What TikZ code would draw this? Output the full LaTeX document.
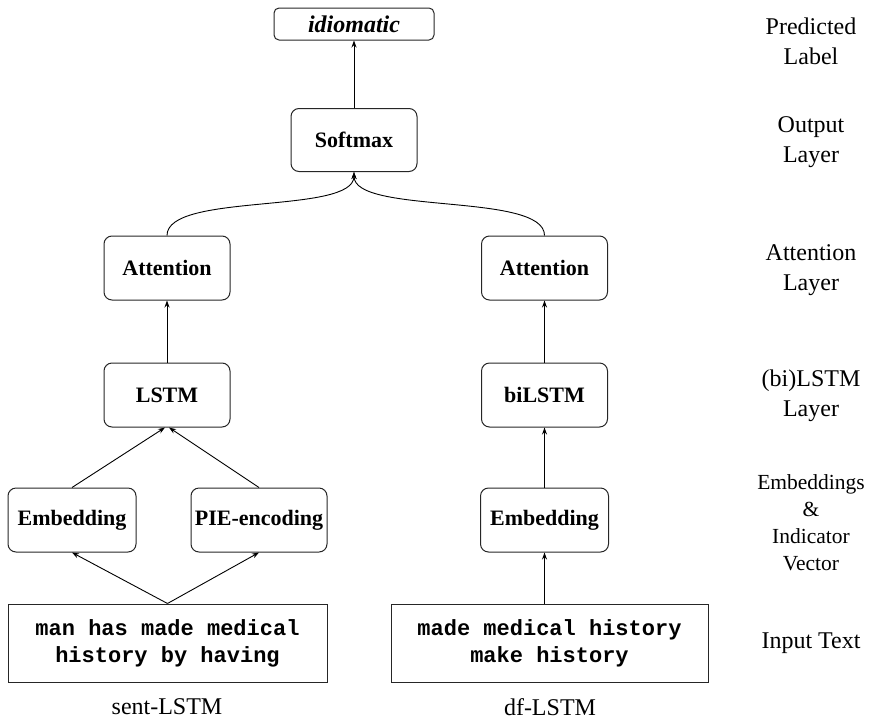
\documentclass[tikz,border=0pt]{standalone}
\usepackage{fontspec}
\setmainfont{Liberation Serif}
\setmonofont{Liberation Mono}
\usetikzlibrary{arrows.meta}
\begin{document}
\begin{tikzpicture}[x=1pt,y=-1pt,
  box/.style={draw=black!85, line width=1pt, rounded corners=8pt, align=center, inner sep=0pt,
    font=\fontsize{22}{26}\selectfont\bfseries},
  inbox/.style={draw=black!85, line width=1pt, align=center, inner sep=0pt,
    minimum width=319pt, minimum height=78pt, font=\fontsize{22}{27}\selectfont\ttfamily\bfseries},
  side/.style={align=center, font=\fontsize{24}{30}\selectfont},
  captext/.style={font=\fontsize{24}{28}\selectfont},
  arr/.style={line width=0.9pt, -{Stealth[length=7pt,width=5pt]}}]
\useasboundingbox (0,0) rectangle (869,720);

% main nodes
\node[box, rounded corners=5pt, minimum width=160pt, minimum height=32pt,
  font=\fontsize{24}{28}\selectfont\bfseries\itshape] (lab) at (354,24) {idiomatic};
\node[box, minimum width=126pt, minimum height=63pt] (soft) at (354,140) {Softmax};
\node[box, minimum width=126pt, minimum height=64pt] (attL) at (167,268) {Attention};
\node[box, minimum width=126pt, minimum height=64pt] (attR) at (544.5,268) {Attention};
\node[box, minimum width=126pt, minimum height=64pt] (lstm) at (167,395) {LSTM};
\node[box, minimum width=126pt, minimum height=64pt] (bilstm) at (544.5,395) {biLSTM};
\node[box, minimum width=128pt, minimum height=64pt] (embL) at (72,520) {Embedding};
\node[box, minimum width=136pt, minimum height=64pt] (pie) at (259,520) {PIE-encoding};
\node[box, minimum width=128pt, minimum height=64pt] (embR) at (544.5,520) {Embedding};
\node[inbox] (inL) at (167.5,643) {man has made medical\\history by having};
\node[inbox, minimum width=317pt] (inR) at (549.5,643) {made medical history\\make history};

% captions
\node[captext] (capL) at (167,707) {sent-LSTM};
\node[captext] (capR) at (550,707) {df-LSTM};

% side labels
\node[side] (s1) at (811,41) {Predicted\\Label};
\node[side] (s2) at (811,142) {Output\\Layer};
\node[side] (s3) at (811,270) {Attention\\Layer};
\node[side] (s4) at (811,396) {(bi)LSTM\\Layer};
\node[side, font=\fontsize{21.5}{27}\selectfont] (s5) at (811,523) {Embeddings\\\&\\Indicator\\Vector};
\node[side] (s6) at (811,643) {Input Text};

% connectors
\draw[arr] (soft.north) -- (lab.south);
\draw[arr] (attL.north) .. controls (167,192) and (354,215) .. (soft.south);
\draw[arr] (attR.north) .. controls (544.5,192) and (354,215) .. (soft.south);
\draw[arr] (lstm.north) -- (attL.south);
\draw[arr] (bilstm.north) -- (attR.south);
\draw[arr] (embL.north) -- ([xshift=-2pt]lstm.south);
\draw[arr] (pie.north) -- ([xshift=2pt]lstm.south);
\draw[arr] (embR.north) -- (bilstm.south);
\draw[arr] (inL.north) -- (embL.south);
\draw[arr] (inL.north) -- (pie.south);
\draw[arr] (inR.north -| embR.south) -- (embR.south);
\end{tikzpicture}
\end{document}
